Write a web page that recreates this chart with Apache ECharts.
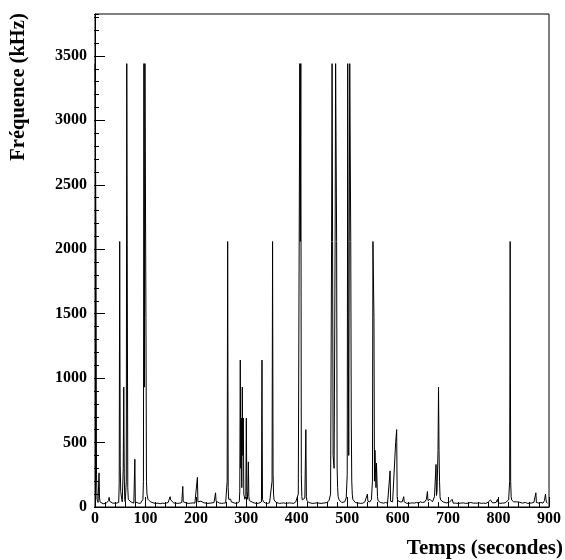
<!DOCTYPE html>
<html>
<head>
<meta charset="utf-8">
<script src="https://cdn.jsdelivr.net/npm/echarts@6/dist/echarts.min.js"></script>
<style>html,body{margin:0;padding:0;background:#fff;}#c{width:565px;height:560px;}</style>
</head>
<body>
<div id="c"></div>
<script>
// Time (s) of each sample
const times = [
0,1,2,3,4,6,7,8,9,10,13,16,19,22,25,27,28,29,31,35,38,42,45,47,48,49,50,51,53,54,56,57,58,59,60,62,63,64,65,66,68,71,74,77,79,80,83,86,90,93,95,96,97,98,99,100,101,102,103,105,107,110,113,117,121,125,129,133,137,141,145,148,149,150,152,156,160,164,168,172,174,175,178,182,186,190,194,198,201,203,204,207,210,212,216,220,224,228,232,236,238,239,240,243,247,251,255,259,261,262,263,264,265,267,268,269,270,273,277,281,284,286,287,288,289,290,291,292,293,294,295,297,299,300,301,302,303,304,305,306,309,313,317,321,325,328,330,331,332,334,338,342,346,349,351,352,353,354,355,357,359,362,366,370,374,378,382,386,390,394,398,
403,406,407,408,409,410,411,413,416,418,419,420,421,424,428,432,436,440,444,448,452,456,460,464,467,469,470,471,472,474,476,477,478,479,480,481,482,484,486,489,492,495,498,500,501,502,503,504,505,506,507,508,509,510,511,513,516,519,523,527,531,535,538,540,541,542,545,548,550,551,552,553,554,555,557,558,560,561,563,566,569,572,576,580,583,585,586,587,590,593,596,598,599,600,601,603,605,606,609,612,613,614,617,621,625,629,633,637,641,645,649,651,654,657,659,660,661,664,667,669,670,673,676,677,678,680,681,682,683,684,685,687,690,693,696,699,702,705,708,710,711,715,720,725,730,735,740,745,750,753,758,762,766,770,775,780,784,786,788,791,795,798,799,800,803,807,810,813,816,820,822,823,824,825,826,828,830,833,836,838,841,844,847,850,853,854,858,862,866,870,874,875,876,880,884,888,891,893,894,895,897,900
];
// Frequency (kHz) of each sample
const freqs = [
3440,3440,2060,250,60,35,45,265,70,40,30,25,30,28,35,50,75,45,35,30,28,30,25,35,180,2060,320,120,60,40,300,930,250,60,40,200,3440,3440,150,60,45,40,35,30,370,40,35,30,28,35,60,200,3440,930,3440,3440,1470,200,100,60,45,40,35,30,28,30,25,30,28,30,35,45,80,55,40,32,30,28,30,35,160,40,32,30,28,30,32,30,35,230,40,35,45,38,32,30,28,30,32,35,45,110,45,35,30,28,30,32,40,200,2060,150,60,50,45,60,40,35,30,28,30,40,120,1140,300,690,150,930,400,690,100,60,80,690,100,60,120,350,80,50,40,35,30,28,30,40,40,1140,60,40,30,28,32,40,200,2060,250,100,55,45,35,30,28,30,32,28,30,32,30,28,
40,100,3440,2060,3440,250,80,55,45,70,600,80,50,40,35,30,28,30,32,30,28,30,32,35,50,100,2060,3440,2060,400,300,2060,3440,3440,2060,300,150,80,55,45,35,32,40,70,250,3440,1470,400,2060,3440,3440,2060,690,200,100,60,45,35,32,30,28,30,40,45,100,45,35,40,60,200,2060,2060,1470,200,440,150,340,80,50,40,35,32,30,35,30,40,280,45,35,40,50,500,600,80,50,40,60,40,35,40,80,40,32,30,28,30,32,30,35,30,40,35,45,40,60,120,50,45,60,50,40,50,80,330,90,120,440,930,440,200,80,55,45,40,35,32,30,35,30,60,30,28,30,28,30,32,28,30,35,30,28,30,32,28,30,28,40,55,40,32,30,35,60,35,30,28,30,28,32,40,55,200,2060,200,80,55,45,40,35,40,35,38,32,30,40,35,30,28,30,32,35,110,35,32,30,35,30,50,100,60,35,30
];
const xTicks = [0,100,200,300,400,500,600,700,800,900];
const yTicks = [0,500,1000,1500,2000,2500,3000,3500];
const xTitle = 'Temps (secondes)';
const yTitle = 'Fréquence (kHz)';

const data = times.map((t, i) => [t, freqs[i]]);
const YMAX = 3825;

const chart = echarts.init(document.getElementById('c'));
chart.setOption({
  animation: false,
  backgroundColor: '#fff',
  title: {text: xTitle, right: 2, top: 538, padding: 0,
          textStyle: {color: '#000', fontFamily: 'Liberation Serif', fontWeight: 'bold', fontSize: 21}},
  grid: {left: 94, right: 16, top: 14, bottom: 53, show: true, borderColor: '#000', borderWidth: 1},
  xAxis: [
    {type: 'value', min: xTicks[0], max: xTicks[xTicks.length - 1], interval: xTicks[1] - xTicks[0],
     axisLine: {show: true, onZero: false, lineStyle: {color: '#000'}},
     axisTick: {show: true, inside: true, length: 10, lineStyle: {color: '#000', width: 1}},
     minorTick: {show: true, splitNumber: 5, length: 5, lineStyle: {color: '#000', width: 1}},
     axisLabel: {fontFamily: 'Liberation Serif', fontWeight: 'bold', fontSize: 16, lineHeight: 8, color: '#000', formatter: v => String(v)},
     splitLine: {show: false}}
  ],
  yAxis: [
    {type: 'value', min: yTicks[0], max: YMAX, interval: yTicks[1] - yTicks[0],
     name: yTitle, nameLocation: 'middle', nameRotate: 90, nameGap: 66,
     nameTextStyle: {color: '#000', fontFamily: 'Liberation Serif', fontWeight: 'bold', fontSize: 20.5, padding: [0, 0, 0, 347]},
     axisLine: {show: true, onZero: false, lineStyle: {color: '#000'}},
     axisTick: {show: true, inside: true, length: 10, lineStyle: {color: '#000', width: 1}},
     axisLabel: {showMaxLabel: false, fontFamily: 'Liberation Serif', fontWeight: 'bold', fontSize: 16, color: '#000', formatter: v => String(v)},
     splitLine: {show: false}},
    {type: 'value', min: yTicks[0], max: YMAX, interval: 100, position: 'right', offset: -455,
     axisLine: {show: false, onZero: false},
     axisTick: {show: true, inside: false, length: 5, lineStyle: {color: '#000', width: 1}},
     axisLabel: {show: false}, splitLine: {show: false}}
  ],
  series: [{type: 'line', data: data, showSymbol: false, lineStyle: {color: '#000', width: 1}}]
});
</script>
</body>
</html>
